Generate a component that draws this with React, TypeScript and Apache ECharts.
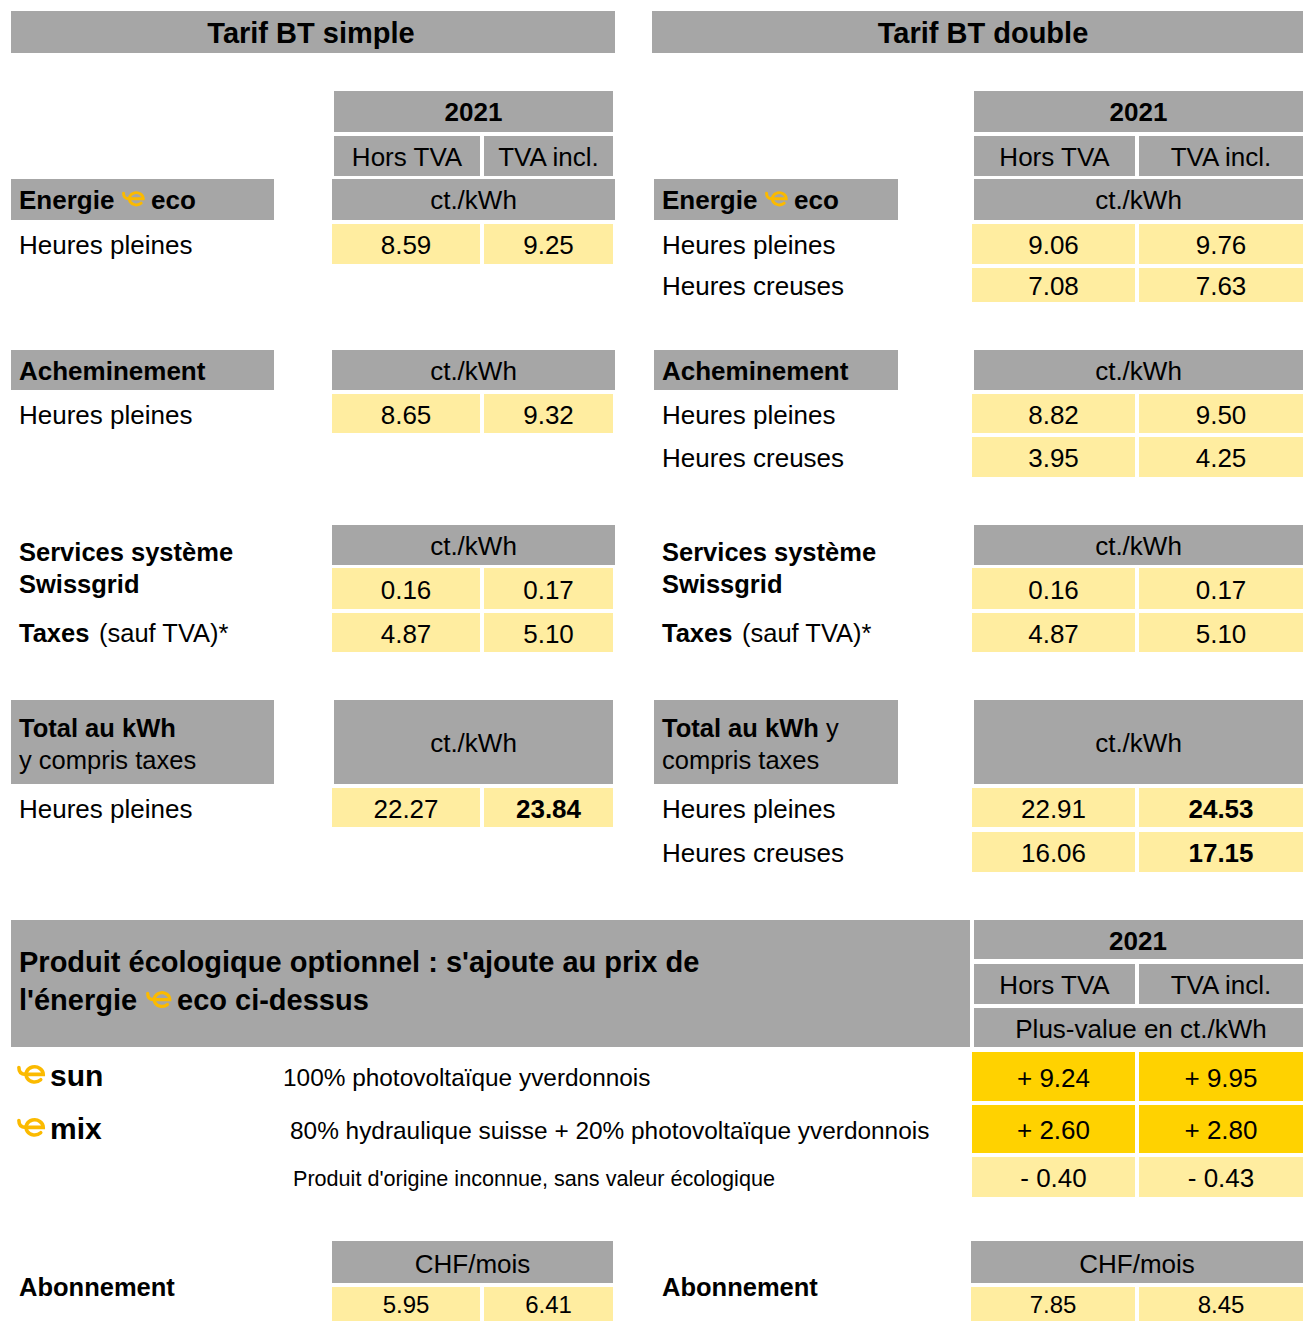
import React, { useEffect, useRef } from "react";
import * as echarts from "echarts";

// ---------- DATA ----------
const panelTitles = ["Tarif BT simple", "Tarif BT double"];
const yearLabel = "2021";
const colHeaders = ["Hors TVA", "TVA incl."];
const unitKwh = "ct./kWh";
const unitEco = "Plus-value en ct./kWh";
const unitAbo = "CHF/mois";
const periodLabels = ["Heures pleines", "Heures creuses"];

// Energie eco
const energySimple = [[8.59, 9.25]];
const energyDouble = [[9.06, 9.76], [7.08, 7.63]];
// Acheminement
const transportSimple = [[8.65, 9.32]];
const transportDouble = [[8.82, 9.5], [3.95, 4.25]];
// Services système Swissgrid / Taxes
const swissgridValues = [0.16, 0.17];
const taxesValues = [4.87, 5.1];
// Total
const totalSimple = [[22.27, 23.84]];
const totalDouble = [[22.91, 24.53], [16.06, 17.15]];
// Produits écologiques
const ecoProducts = ["sun", "mix", ""];
const ecoDescriptions = [
  "100% photovoltaïque yverdonnois",
  "80% hydraulique suisse + 20% photovoltaïque yverdonnois",
  "Produit d'origine inconnue, sans valeur écologique",
];
const ecoSurchargeHT = [9.24, 2.6, -0.4];
const ecoSurchargeTTC = [9.95, 2.8, -0.43];
// Abonnement
const aboSimple = [5.95, 6.41];
const aboDouble = [7.85, 8.45];

// ---------- STYLE / LAYOUT ----------
const W = 1303;
const H = 1321;
const GRAY = "#A6A6A6";
const LIGHT = "#FFEDA0";
const DARK = "#FFD200";
const LOGO = "#FBBA00";
const FONT = '"Liberation Sans", Arial, Helvetica, sans-serif';

const LOGO_PATH = "M1.8 1.5 Q1.8 8 8 8 L25 8 A8.2 7.2 0 1 0 22.6 13.1";
echarts.graphic.registerShape("elogo", echarts.graphic.extendPath(LOGO_PATH, {}) as any);

const panels = [
  { titleX: 11, titleW: 604, titleTextX: 311, labelX: 19, barX: 11, barW: 263, hdrX: 334, hdrW: 279,
    cells: [[332, 148], [484, 129]], hdrCells: [[334, 146], [484, 129]], unitX: 332, unitW: 283, logoEco: 122, ecoX: 151, taxesX: 99 },
  { titleX: 652, titleW: 651, titleTextX: 983, labelX: 662, barX: 654, barW: 244, hdrX: 974, hdrW: 329,
    cells: [[972, 163], [1139, 164]], hdrCells: [[974, 161], [1139, 164]], unitX: 974, unitW: 329, logoEco: 765, ecoX: 794, taxesX: 742 },
];

const fmt = (v: number) => v.toFixed(2);
const fmtSigned = (v: number) => (v < 0 ? "- " : "+ ") + Math.abs(v).toFixed(2);

function rect(x: number, y: number, w: number, h: number, fill: string) {
  return { type: "rect", silent: true, shape: { x, y, width: w, height: h }, style: { fill } };
}
function txt(x: number, y: number, s: string, size: number, bold = false, align = "left") {
  return {
    type: "text", silent: true, x, y,
    style: {
      text: s, fontSize: size, fontWeight: bold ? "bold" : "normal", fontFamily: FONT, fill: "#000",
      align, verticalAlign: "middle", textAlign: align, textVerticalAlign: "middle",
    },
  };
}
function logo(x: number, y: number, s: number) {
  return {
    type: "elogo", silent: true, x, y, scaleX: s, scaleY: s,
    style: { fill: "none", stroke: LOGO, lineWidth: 3.4, lineCap: "round" },
  };
}

function buildGraphic() {
  const els: any[] = [];
  const valueRows = (p: any, rows: { y: number; h: number }[], vals: number[][], boldLast = false) => {
    vals.forEach((row, i) => {
      const r = rows[i];
      row.forEach((v, j) => {
        const [cx, cw] = p.cells[j];
        els.push(rect(cx, r.y, cw, r.h, LIGHT));
        els.push(txt(cx + cw / 2, r.y + r.h / 2 + 1, fmt(v), 26, boldLast && j === 1, "center"));
      });
    });
  };

  const energyRows = [{ y: 224, h: 40 }, { y: 268, h: 34 }];
  const transportRows = [{ y: 394, h: 39 }, { y: 437, h: 40 }];
  const serviceRows = [{ y: 568, h: 41 }, { y: 613, h: 39 }];
  const totalRows = [{ y: 788, h: 39 }, { y: 832, h: 40 }];

  panels.forEach((p, pi) => {
    // title
    els.push(rect(p.titleX, 11, p.titleW, 42, GRAY));
    els.push(txt(p.titleTextX, 33, panelTitles[pi], 29, true, "center"));
    // year + column headers
    els.push(rect(p.hdrX, 91, p.hdrW, 41, GRAY));
    els.push(txt(p.hdrX + p.hdrW / 2, 112, yearLabel, 26, true, "center"));
    p.hdrCells.forEach(([x, w]: number[], j: number) => {
      els.push(rect(x, 136, w, 40, GRAY));
      els.push(txt(x + w / 2, 157, colHeaders[j], 26, false, "center"));
    });

    // Energie eco
    els.push(rect(p.barX, 179, p.barW, 41, GRAY));
    els.push(txt(p.labelX, 200, "Energie", 26, true));
    els.push(logo(p.logoEco, 192, 0.85));
    els.push(txt(p.ecoX, 200, "eco", 26, true));
    els.push(rect(p.unitX, 179, p.unitW, 41, GRAY));
    els.push(txt(p.unitX + p.unitW / 2, 200, unitKwh, 26, false, "center"));
    const eVals = pi === 0 ? energySimple : energyDouble;
    eVals.forEach((_, i) => els.push(txt(p.labelX, energyRows[i].y + energyRows[i].h / 2 + 1, periodLabels[i], 26)));
    valueRows(p, energyRows, eVals);

    // Acheminement
    els.push(rect(p.barX, 350, p.barW, 40, GRAY));
    els.push(txt(p.labelX, 371, "Acheminement", 26, true));
    els.push(rect(p.unitX, 350, p.unitW, 40, GRAY));
    els.push(txt(p.unitX + p.unitW / 2, 371, unitKwh, 26, false, "center"));
    const tVals = pi === 0 ? transportSimple : transportDouble;
    tVals.forEach((_, i) => els.push(txt(p.labelX, transportRows[i].y + transportRows[i].h / 2 + 1, periodLabels[i], 26)));
    valueRows(p, transportRows, tVals);

    // Services système / Taxes
    els.push(rect(p.unitX, 525, p.unitW, 40, GRAY));
    els.push(txt(p.unitX + p.unitW / 2, 546, unitKwh, 26, false, "center"));
    els.push(txt(p.labelX, 552, "Services système", 25.5, true));
    els.push(txt(p.labelX, 584, "Swissgrid", 25.5, true));
    els.push(txt(p.labelX, 633, "Taxes", 25.5, true));
    els.push(txt(p.taxesX, 633, "(sauf TVA)*", 25.5, false));
    valueRows(p, serviceRows, [swissgridValues, taxesValues]);

    // Total
    els.push(rect(p.barX, 700, p.barW, 84, GRAY));
    els.push(rect(p.hdrX, 700, p.hdrW, 84, GRAY));
    els.push(txt(p.hdrX + p.hdrW / 2, 743, unitKwh, 26, false, "center"));
    if (pi === 0) {
      els.push(txt(p.labelX, 728, "Total au kWh", 25.5, true));
      els.push(txt(p.labelX, 760, "y compris taxes", 25.5, false));
    } else {
      els.push(txt(p.labelX, 728, "Total au kWh", 25.5, true));
      els.push(txt(p.labelX + 164, 728, "y", 25.5, false));
      els.push(txt(p.labelX, 760, "compris taxes", 25.5, false));
    }
    const toVals = pi === 0 ? totalSimple : totalDouble;
    toVals.forEach((_, i) => els.push(txt(p.labelX, totalRows[i].y + totalRows[i].h / 2 + 1, periodLabels[i], 26)));
    valueRows(p, totalRows, toVals, true);

    // Abonnement
    const abo = pi === 0 ? aboSimple : aboDouble;
    const aboHdrX = pi === 0 ? 332 : 971;
    const aboHdrW = pi === 0 ? 281 : 332;
    els.push(rect(aboHdrX, 1241, aboHdrW, 42, GRAY));
    els.push(txt(aboHdrX + aboHdrW / 2, 1264, unitAbo, 26, false, "center"));
    els.push(txt(p.labelX, 1287, "Abonnement", 25.5, true));
    const aboCells = pi === 0 ? [[332, 148], [484, 129]] : [[971, 164], [1139, 164]];
    abo.forEach((v, j) => {
      const [cx, cw] = aboCells[j];
      els.push(rect(cx, 1287, cw, 44, LIGHT));
      els.push(txt(cx + cw / 2, 1304, fmt(v), 24, false, "center"));
    });
  });

  // Produit écologique
  els.push(rect(11, 920, 959, 127, GRAY));
  els.push(txt(19, 962, "Produit écologique optionnel : s'ajoute au prix de", 29, true));
  els.push(txt(19, 1000, "l'énergie", 29, true));
  els.push(logo(146, 992, 0.95));
  els.push(txt(177, 1000, "eco ci-dessus", 29, true));
  els.push(rect(974, 920, 329, 39, GRAY));
  els.push(txt(1138, 941, yearLabel, 26, true, "center"));
  [[974, 161], [1139, 164]].forEach(([x, w], j) => {
    els.push(rect(x, 964, w, 40, GRAY));
    els.push(txt(x + w / 2, 985, colHeaders[j], 26, false, "center"));
  });
  els.push(rect(974, 1008, 329, 39, GRAY));
  els.push(txt(1141, 1029, unitEco, 26, false, "center"));

  const ecoRows = [{ y: 1052, h: 49 }, { y: 1105, h: 48 }, { y: 1157, h: 40 }];
  const descX = [283, 290, 293];
  const descSize = [24.4, 24.4, 21.6];
  ecoProducts.forEach((name, i) => {
    const r = ecoRows[i];
    const fill = name ? DARK : LIGHT;
    [ecoSurchargeHT[i], ecoSurchargeTTC[i]].forEach((v, j) => {
      const [cx, cw] = [[972, 163], [1139, 164]][j];
      els.push(rect(cx, r.y, cw, r.h, fill));
      els.push(txt(cx + cw / 2, r.y + r.h / 2 + 1, fmtSigned(v), 26, false, "center"));
    });
    els.push(txt(descX[i], r.y + r.h / 2 + 1, ecoDescriptions[i], descSize[i]));
    if (name) {
      els.push(logo(17, r.y + 14, 1.05));
      els.push(txt(50, r.y + 23, name, 30, true));
    }
  });

  return els;
}

export default function App() {
  const ref = useRef<HTMLDivElement>(null);
  useEffect(() => {
    document.body.style.margin = "0";
    if (!ref.current) return;
    const chart = echarts.init(ref.current, null, { renderer: "svg", width: W, height: H });
    chart.setOption({
      animation: false,
      backgroundColor: "#ffffff",
      graphic: { elements: buildGraphic() },
    });
    return () => chart.dispose();
  }, []);
  return <div ref={ref} style={{ width: W, height: H }} />;
}
